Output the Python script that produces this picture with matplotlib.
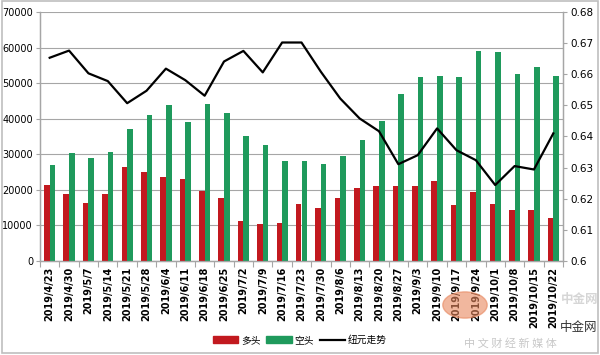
import numpy as np
import matplotlib
matplotlib.use("Agg")
import matplotlib.pyplot as plt
from matplotlib.patches import Rectangle, Circle
from matplotlib.lines import Line2D

plt.rcParams['font.family'] = ['DejaVu Sans', 'Noto Sans CJK SC']

dates = ["2019/4/23", "2019/4/30", "2019/5/7", "2019/5/14", "2019/5/21", "2019/5/28",
         "2019/6/4", "2019/6/11", "2019/6/18", "2019/6/25", "2019/7/2", "2019/7/9",
         "2019/7/16", "2019/7/23", "2019/7/30", "2019/8/6", "2019/8/13", "2019/8/20",
         "2019/8/27", "2019/9/3", "2019/9/10", "2019/9/17", "2019/9/24", "2019/10/1",
         "2019/10/8", "2019/10/15", "2019/10/22"]

long_pos = [21400, 18950, 16400, 18950, 26500, 25000, 23500, 23000, 19600, 17650,
            11200, 10400, 10750, 15950, 15000, 17850, 20400, 21100, 21100, 21100,
            22350, 15650, 19400, 16100, 14350, 14400, 12000]

short_pos = [26900, 30450, 28950, 30550, 37200, 41050, 43750, 39050, 44050, 41700,
             35200, 32700, 28100, 28100, 27250, 29400, 33900, 39250, 46950, 51700,
             52100, 51700, 59000, 58650, 52550, 54450, 52100]

nzd = [0.6653, 0.6676, 0.6603, 0.6578, 0.6507, 0.6547, 0.6618, 0.6581, 0.6531,
       0.6641, 0.6675, 0.6606, 0.6702, 0.6702, 0.6608, 0.6522, 0.6458, 0.6417,
       0.6311, 0.6340, 0.6426, 0.6356, 0.6324, 0.6244, 0.6305, 0.6294, 0.6410]

red = "#C2191F"
green = "#1F9A5C"
grid_c = "#A6A6A6"

fig = plt.figure(figsize=(6.0, 3.55), dpi=100)
ax = fig.add_axes([40/600, 1 - 261/355, 523/600, 249/355])
ax2 = ax.twinx()

x = np.arange(len(dates))
w = 0.29
ax.bar(x - w/2, long_pos, w, color=red, zorder=3)
ax.bar(x + w/2, short_pos, w, color=green, zorder=3)
ax2.plot(x, nzd, color="black", lw=1.6, zorder=4)

ax.set_xlim(-0.5, len(dates) - 0.5)
ax.set_ylim(0, 70000)
ax.set_yticks(range(0, 70001, 10000))
ax.yaxis.grid(True, color=grid_c, lw=0.8, zorder=0)
ax.set_axisbelow(True)
ax2.set_ylim(0.6, 0.68)
ax2.set_yticks(np.arange(0.6, 0.6801, 0.01))
ax2.set_yticklabels(["0.6", "0.61", "0.62", "0.63", "0.64", "0.65", "0.66", "0.67", "0.68"])

# category ticks between bars, labels at centers
ax.set_xticks(np.arange(-0.5, len(dates), 1.0))
ax.set_xticklabels([])
ax.set_xticks(x, minor=True)
ax.set_xticklabels(dates, minor=True, rotation=90, fontsize=7, fontweight="bold")
ax.tick_params(axis="x", which="minor", length=0, pad=4)
ax.tick_params(axis="x", which="major", length=4, color=grid_c)
ax.tick_params(axis="y", labelsize=7, length=3, color=grid_c, pad=2)
ax2.tick_params(axis="y", labelsize=7.5, length=3, color=grid_c, pad=2)

for a in (ax, ax2):
    a.spines["top"].set_visible(False)
    for s in ("left", "right", "bottom"):
        a.spines[s].set_color(grid_c)
        a.spines[s].set_linewidth(0.9)

# watermark
fig.patches.append(Circle((465/600, 1 - 305/355), 0.037, transform=fig.transFigure,
                          color="#E8875E", alpha=0.6, zorder=0))
fig.text(580/600, 1 - 300/355, "中金网", fontsize=9, color="#BBBBBB", alpha=0.6,
         ha="center", va="center", family=["Noto Sans CJK SC"], fontweight="bold")
fig.text(579/600, 1 - 327/355, "中金网", fontsize=9, color="#333333",
         ha="center", va="center", family=["Noto Sans CJK SC"])
fig.text(510/600, 1 - 343/355, "中 文 财 经 新 媒 体", fontsize=8, color="#C8C8C8",
         ha="center", va="center", family=["Noto Sans CJK SC"])

handles = [Rectangle((0, 0), 1, 1, color=red), Rectangle((0, 0), 1, 1, color=green),
           Line2D([], [], color="black", lw=1.6)]
fig.legend(handles, ["多头", "空头", "纽元走势"], loc="center", bbox_to_anchor=(300/600, 15/355),
           ncol=3, frameon=False, prop={"family": ["Noto Sans CJK SC"], "size": 7},
           handlelength=2.6, handleheight=0.6, handletextpad=0.3, columnspacing=0.6)

fig.patches.append(Rectangle((0.003, 0.006), 0.994, 0.99, transform=fig.transFigure,
                             fill=False, edgecolor="#BFBFBF", lw=1.2))

fig.savefig("out.png", dpi=100)
